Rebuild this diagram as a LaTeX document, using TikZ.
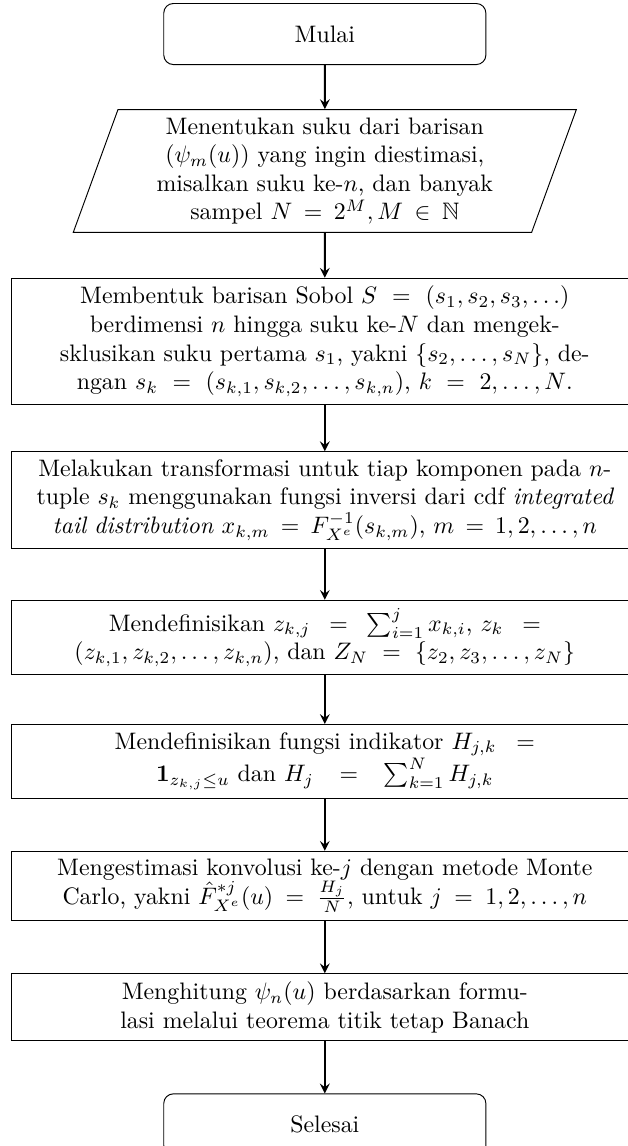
\documentclass[tikz,border=0pt]{standalone}
\usepackage{amsmath, amssymb}
\usepackage{tikz}
\usetikzlibrary{shapes.geometric, arrows.meta, positioning, calc}
\hyphenation{mengek-sklusikan de-ngan formu-lasi}

\begin{document}
\begin{tikzpicture}[
    >=stealth,
    startnode/.style={draw, rectangle, rounded corners, minimum width=4.75cm, minimum height=0.9cm, align=center},
    inputnode/.style={draw, trapezium, trapezium left angle=70, trapezium right angle=110, text width=5cm, inner xsep=0.55cm, align=center},
    procnode/.style={draw, rectangle, text width=9cm, align=center},
    flow_dw/.style={->, thick}
]
    \useasboundingbox (0, 0) rectangle (9.25, -16.9);

    \node[startnode, anchor=north] (s_Mulai) at (4.79, -0.045) {Mulai};

    \node[inputnode] (in_Suku) [below=0.65cm of s_Mulai]
      {Menentukan suku dari barisan $(\psi_m(u))$ yang ingin diestimasi, misalkan suku ke-$n$, dan banyak sampel $N = 2^M, M \in \mathbb{N}$};

    \node[procnode] (p_Sobol) [below=0.66cm of in_Suku]
      {Membentuk barisan Sobol $S = (s_1, s_2, s_3, \ldots)$ berdimensi $n$ hingga suku ke-$N$ dan mengeksklusikan suku pertama $s_1$, yakni $\{s_2, \ldots, s_N\}$, dengan $s_k = (s_{k,1}, s_{k,2}, \ldots, s_{k,n})$, $k = 2, \ldots, N$.};

    \node[procnode] (p_Trans) [below=0.68cm of p_Sobol]
      {Melakukan transformasi untuk tiap komponen pada $n$-\linebreak tuple $s_k$ menggunakan fungsi inversi dari cdf \textit{integrated tail distribution} $x_{k,m} = F_{X^e}^{-1}(s_{k,m})$, $m = 1, 2, \ldots, n$};

    \node[procnode] (p_DefZ) [below=0.75cm of p_Trans]
      {Mendefinisikan $z_{k,j} = \sum_{i=1}^{j} x_{k,i}$, $z_k = (z_{k,1}, z_{k,2}, \ldots, z_{k,n})$, dan $Z_N = \{z_2, z_3, \ldots, z_N\}$};

    \node[procnode] (p_DefH) [below=0.72cm of p_DefZ]
      {Mendefinisikan fungsi indikator $H_{j,k} = \mathbf{1}_{z_{k,j} \leq u}$ dan $H_j = \sum_{k=1}^{N} H_{j,k}$};

    \node[procnode] (p_Konv) [below=0.77cm of p_DefH]
      {Mengestimasi konvolusi ke-$j$ dengan metode Monte Carlo, yakni $\hat{F}_{X^e}^{*j}(u) = \frac{H_j}{N}$, untuk $j = 1, 2, \ldots, n$};

    \node[procnode] (p_Psi) [below=0.77cm of p_Konv]
      {Menghitung $\psi_n(u)$ berdasarkan formulasi melalui teorema titik tetap Banach};

    \node[startnode] (s_Selesai) [below=0.77cm of p_Psi] {Selesai};

    \draw[flow_dw] (s_Mulai) -- (in_Suku);
    \draw[flow_dw] (in_Suku) -- (p_Sobol);
    \draw[flow_dw] (p_Sobol) -- (p_Trans);
    \draw[flow_dw] (p_Trans) -- (p_DefZ);
    \draw[flow_dw] (p_DefZ) -- (p_DefH);
    \draw[flow_dw] (p_DefH) -- (p_Konv);
    \draw[flow_dw] (p_Konv) -- (p_Psi);
    \draw[flow_dw] (p_Psi) -- (s_Selesai);
\end{tikzpicture}
\end{document}
